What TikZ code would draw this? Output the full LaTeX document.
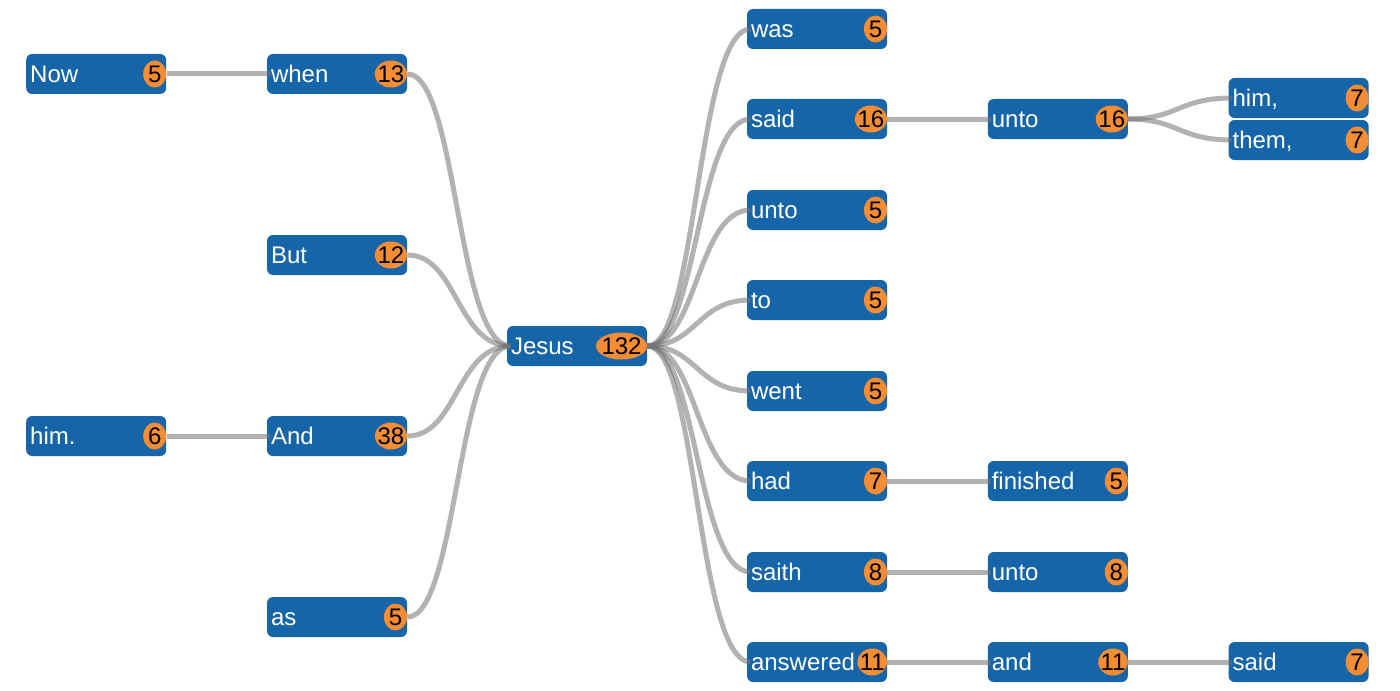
\documentclass[tikz,border=0pt]{standalone}
\usepackage{fontspec}
\setmainfont{Liberation Sans}
\usepackage{tikz}
\usetikzlibrary{positioning,shapes.geometric}
\definecolor{wordblue}{RGB}{22,101,168}
\definecolor{countorange}{RGB}{244,141,52}

\begin{document}
\begin{tikzpicture}[x=0.5pt,y=-0.5pt]
\tikzstyle{word}=[rectangle, rounded corners=3pt, fill=wordblue, text=white, font=\fontsize{12}{14}\selectfont, text width=66pt, align=left, inner xsep=2pt, inner ysep=0pt, minimum height=20pt, text height=8.6pt, text depth=0pt, node distance=50pt]
\tikzstyle{count}=[ellipse, fill=countorange, text=black, font=\fontsize{12}{14}\selectfont, inner xsep=-1pt, inner ysep=0pt, minimum width=11.5pt, minimum height=13.5pt, text height=8.6pt, text depth=0pt, anchor=east]
\tikzstyle{connect}=[draw=black!55, opacity=0.55, line width=2.5pt, shorten >=-2pt, to path={.. controls +(50,0) and +(-50,0) .. (\tikztotarget)}]
\useasboundingbox (0,0) rectangle (1400,690);
\node[word] (jesus) at (577,346) {Jesus};
\node[word] (when) at (337,74) {when};
\node[word] (now) [left=of when] {Now};
\node[word] (but) at (337,255) {But};
\node[word] (and) at (337,436) {And};
\node[word] (himdot) [left=of and] {him.};
\node[word] (as) at (337,617) {as};
\node[word] (was) at (817,29) {was};
\node[word] (said) at (817,119) {said};
\node[word] (unto) at (817,210) {unto};
\node[word] (tow) at (817,300) {to};
\node[word] (went) at (817,391) {went};
\node[word] (had) at (817,481) {had};
\node[word] (saith) at (817,572) {saith};
\node[word] (answered) at (817,662) {answered};
\node[word] (saidunto) [right=of said] {unto};
\node[word] (him) [right=of saidunto, yshift=10.5pt] {him,};
\node[word] (them) [right=of saidunto, yshift=-10.5pt] {them,};
\node[word] (finished) [right=of had] {finished};
\node[word] (saithunto) [right=of saith] {unto};
\node[word] (andw) [right=of answered] {and};
\node[word] (andsaid) [right=of andw] {said};
% counts
\node[count] (jesusn) at (jesus.east) {132};
\node[count] (whenn) at (when.east) {13};
\node[count] (nown) at (now.east) {5};
\node[count] (butn) at (but.east) {12};
\node[count] (andn) at (and.east) {38};
\node[count] (himdotn) at (himdot.east) {6};
\node[count] (asn) at (as.east) {5};
\node[count] (wasn) at (was.east) {5};
\node[count] (saidn) at (said.east) {16};
\node[count] (unton) at (unto.east) {5};
\node[count] (town) at (tow.east) {5};
\node[count] (wentn) at (went.east) {5};
\node[count] (hadn) at (had.east) {7};
\node[count] (saithn) at (saith.east) {8};
\node[count] (answeredn) at (answered.east) {11};
\node[count] (saidunton) at (saidunto.east) {16};
\node[count] (himn) at (him.east) {7};
\node[count] (themn) at (them.east) {7};
\node[count] (finishedn) at (finished.east) {5};
\node[count] (saithunton) at (saithunto.east) {8};
\node[count] (andwn) at (andw.east) {11};
\node[count] (andsaidn) at (andsaid.east) {7};
% links
\path (now.east) edge [connect] (when.west);
\path (when.east) edge [connect] (jesus.west);
\path (but.east) edge [connect] (jesus.west);
\path (himdot.east) edge [connect] (and.west);
\path (and.east) edge [connect] (jesus.west);
\path (as.east) edge [connect] (jesus.west);
\path (jesus.east) edge [connect] (was.west);
\path (jesus.east) edge [connect] (said.west);
\path (jesus.east) edge [connect] (unto.west);
\path (jesus.east) edge [connect] (tow.west);
\path (jesus.east) edge [connect] (went.west);
\path (jesus.east) edge [connect] (had.west);
\path (jesus.east) edge [connect] (saith.west);
\path (jesus.east) edge [connect] (answered.west);
\path (said.east) edge [connect] (saidunto.west);
\path (saidunto.east) edge [connect] (him.west);
\path (saidunto.east) edge [connect] (them.west);
\path (had.east) edge [connect] (finished.west);
\path (saith.east) edge [connect] (saithunto.west);
\path (answered.east) edge [connect] (andw.west);
\path (andw.east) edge [connect] (andsaid.west);
\end{tikzpicture}
\end{document}
